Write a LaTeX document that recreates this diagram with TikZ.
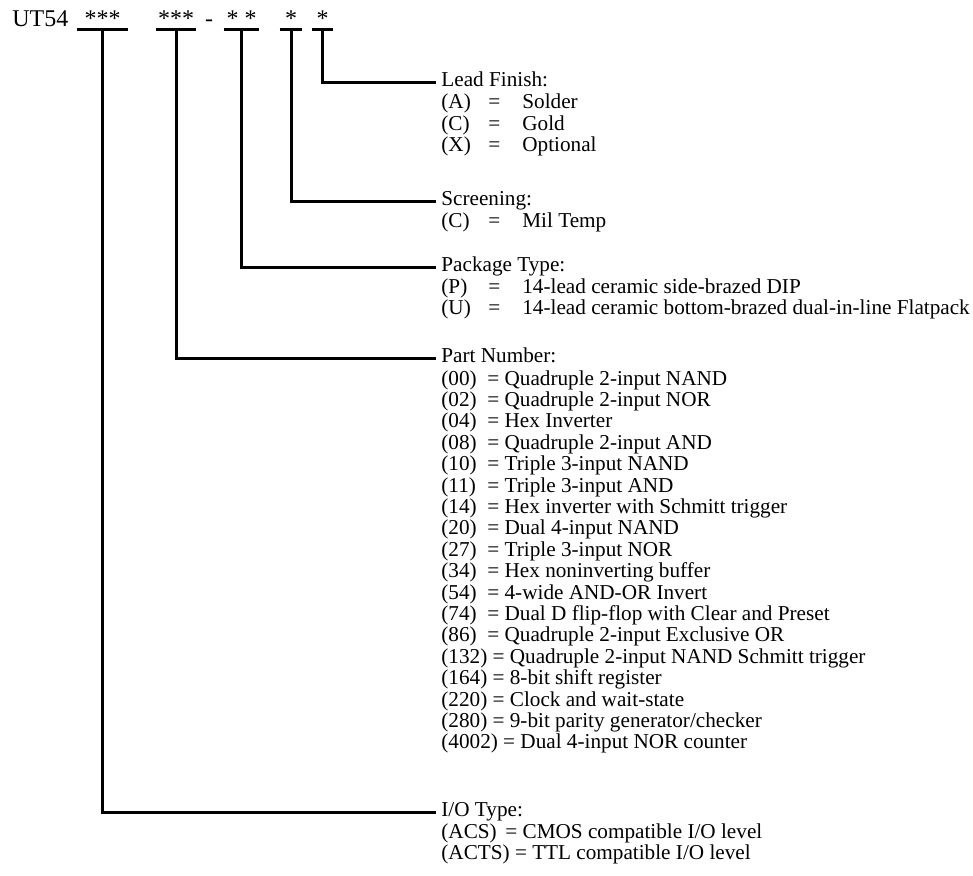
\documentclass[tikz,border=0pt]{standalone}
\usepackage{fontspec}
\setmainfont{Liberation Serif}
\usetikzlibrary{positioning}
\tikzstyle{title} = [anchor=base, inner sep=0pt, font=\fontsize{12pt}{14pt}\selectfont]
\tikzstyle{field} = [title, inner ysep=1.5pt]
\tikzstyle{head}  = [anchor=west, inner xsep=2.5pt, inner ysep=0pt, text height=6.6pt, text depth=2.4pt]
\tikzstyle{items} = [align=left, inner xsep=2.5pt, inner ysep=0pt, anchor=north west]
\tikzstyle{wire}  = [line width=1.5pt]
\newcommand{\fst}{\rule{0pt}{8pt}}
\newcommand{\opt}[2]{\makebox[23.5pt][l]{#1}\makebox[17pt][l]{=}#2}
\newcommand{\pn}[2]{\makebox[23pt][l]{(#1)}= #2}

\begin{document}
\begin{tikzpicture}[x=0.5pt, y=-0.5pt, font=\fontsize{10.6pt}{10.7pt}\selectfont]
      \useasboundingbox (0,0) rectangle (973,875);

      \node(ut)   [title, anchor=base west] at (12,26) {UT54};
      \node(fIo)  [field, minimum width=25.5pt] at (102.5,26) {***};
      \node(fPn)  [field, minimum width=20pt]   at (176,26)   {***};
      \node(dash) [title]                       at (209,26)   {-};
      \node(fPk)  [field, minimum width=17.5pt] at (241.5,26) {* *};
      \node(fSc)  [field, minimum width=11pt]   at (291,26)   {*};
      \node(fLf)  [field, minimum width=10.5pt] at (322.5,26) {*};

      \node(Lf) [head] at (436,82.5) {Lead Finish:};
      \node(Sc) [head] at (436,201)  {Screening:};
      \node(Pk) [head] at (436,267)  {Package Type:};
      \node(Pn) [head] at (436,358)  {Part Number:};
      \node(Io) [head] at (436,812)  {I/O Type:};

      \node(Lfl) [items, below=0.3pt of Lf.south west, anchor=north west]
        {\fst\opt{(A)}{Solder}\\ \opt{(C)}{Gold}\\ \opt{(X)}{Optional}};
      \node(Scl) [items, below=0.3pt of Sc.south west, anchor=north west]
        {\fst\opt{(C)}{Mil Temp}};
      \node(Pkl) [items, below=0.3pt of Pk.south west, anchor=north west]
        {\fst\opt{(P)}{14-lead ceramic side-brazed DIP}\\
         \opt{(U)}{14-lead ceramic bottom-brazed dual-in-line Flatpack}};
      \node(Pnl) [items, below=0.6pt of Pn.south west, anchor=north west]
        {\fst\pn{00}{Quadruple 2-input NAND}\\
         \pn{02}{Quadruple 2-input NOR}\\
         \pn{04}{Hex Inverter}\\
         \pn{08}{Quadruple 2-input AND}\\
         \pn{10}{Triple 3-input NAND}\\
         \pn{11}{Triple 3-input AND}\\
         \pn{14}{Hex inverter with Schmitt trigger}\\
         \pn{20}{Dual 4-input NAND}\\
         \pn{27}{Triple 3-input NOR}\\
         \pn{34}{Hex noninverting buffer}\\
         \pn{54}{4-wide AND-OR Invert}\\
         \pn{74}{Dual D flip-flop with Clear and Preset}\\
         \pn{86}{Quadruple 2-input Exclusive OR}\\
         (132) = Quadruple 2-input NAND Schmitt trigger\\
         (164) = 8-bit shift register\\
         (220) = Clock and wait-state\\
         (280) = 9-bit parity generator/checker\\
         (4002) = Dual 4-input NOR counter};
      \node(Iol) [items, below=0.3pt of Io.south west, anchor=north west]
        {\fst\makebox[32pt][l]{(ACS)}= CMOS compatible I/O level\\
         (ACTS) = TTL compatible I/O level};

      \foreach \f in {fIo,fPn,fPk,fSc,fLf}
        \draw [wire] (\f.south west) -- (\f.south east);

      \draw [wire] (fLf.south) |- (Lf.west);
      \draw [wire] (fSc.south) |- (Sc.west);
      \draw [wire] (fPk.south) |- (Pk.west);
      \draw [wire] (fPn.south) |- (Pn.west);
      \draw [wire] (fIo.south) |- (Io.west);
    \end{tikzpicture}
\end{document}
